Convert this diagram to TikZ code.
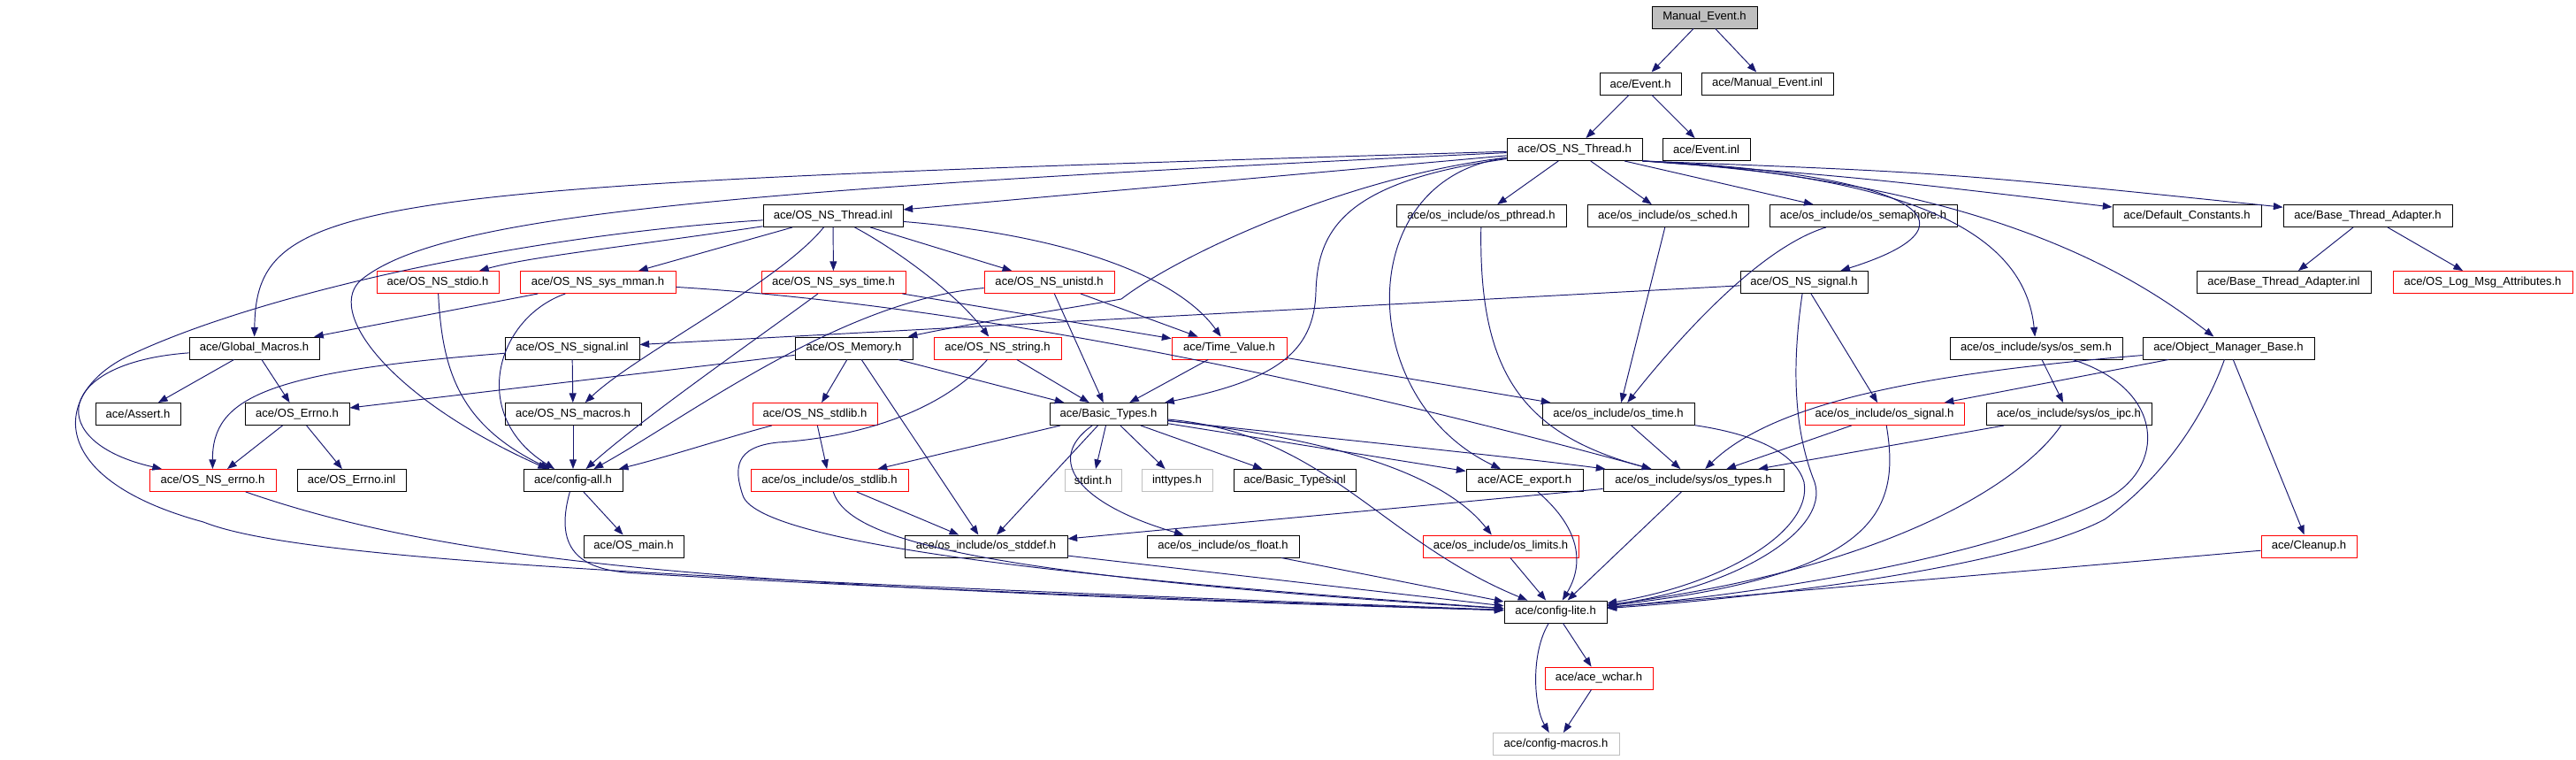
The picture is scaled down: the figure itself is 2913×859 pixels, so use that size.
\documentclass[tikz,border=0pt]{standalone}
\usepackage{fontspec}
\setmainfont{Liberation Sans}
\usetikzlibrary{arrows.meta}
\definecolor{eblue}{HTML}{191970}
\definecolor{nred}{HTML}{FF0000}
\definecolor{ngray}{HTML}{BFBFBF}
\tikzset{
  nb/.style={draw=black, fill=white, line width=0.7pt, inner sep=0pt, minimum height=18.75pt,
     font=\fontsize{9.8pt}{11pt}\selectfont, text=black},
  nr/.style={nb, draw=nred},
  ng/.style={nb, draw=ngray},
  bw/.style={minimum width=#1*0.75pt},
  e/.style={draw=eblue, line width=0.72pt, -{Triangle[length=8pt,width=6pt]}}
}
\begin{document}
\begin{tikzpicture}[x=0.75pt,y=-0.75pt]
\fill[white] (0,0) rectangle (2913,859);
\useasboundingbox (0,0) rectangle (2913,859);
% row 0
\node[nb,fill=ngray,bw=119] (me) at (1927.5,19.5) {Manual\_Event.h};
% row 1
\node[nb,bw=92] (ev) at (1855,94.5) {ace/Event.h};
\node[nb,bw=149] (mei) at (1998.5,94.5) {ace/Manual\_Event.inl};
% row 2
\node[nb,bw=153] (nst) at (1780.5,169) {ace/OS\_NS\_Thread.h};
\node[nb,bw=99] (evi) at (1929.5,169) {ace/Event.inl};
% row 3
\node[nb,bw=158] (nsti) at (942,244) {ace/OS\_NS\_Thread.inl};
\node[nb,bw=192] (pth) at (1675,244) {ace/os\_include/os\_pthread.h};
\node[nb,bw=182] (sch) at (1886,244) {ace/os\_include/os\_sched.h};
\node[nb,bw=212] (sem) at (2107,244) {ace/os\_include/os\_semaphore.h};
\node[nb,bw=168] (dc) at (2473,244) {ace/Default\_Constants.h};
\node[nb,bw=191] (bta) at (2677.5,244) {ace/Base\_Thread\_Adapter.h};
% row 4
\node[nr,bw=138] (stdio) at (495,319) {ace/OS\_NS\_stdio.h};
\node[nr,bw=176] (mman) at (676,319) {ace/OS\_NS\_sys\_mman.h};
\node[nr,bw=163] (systime) at (942.5,319) {ace/OS\_NS\_sys\_time.h};
\node[nr,bw=147] (unistd) at (1186.5,319) {ace/OS\_NS\_unistd.h};
\node[nb,bw=144] (nsig) at (2040,319) {ace/OS\_NS\_signal.h};
\node[nb,bw=197] (btai) at (2582.5,319) {ace/Base\_Thread\_Adapter.inl};
\node[nr,bw=203] (logmsg) at (2807.5,319) {ace/OS\_Log\_Msg\_Attributes.h};
% row 5
\node[nb,bw=147] (gm) at (287.5,393.5) {ace/Global\_Macros.h};
\node[nb,bw=152] (nsigi) at (647,393.5) {ace/OS\_NS\_signal.inl};
\node[nb,bw=133] (mem) at (965.5,393.5) {ace/OS\_Memory.h};
\node[nr,bw=144] (str) at (1128,393.5) {ace/OS\_NS\_string.h};
\node[nr,bw=130] (tv) at (1390,393.5) {ace/Time\_Value.h};
\node[nb,bw=195] (ossem) at (2302.5,393.5) {ace/os\_include/sys/os\_sem.h};
\node[nb,bw=194] (omb) at (2520,393.5) {ace/Object\_Manager\_Base.h};
% row 6
\node[nb,bw=96] (assert) at (156,468) {ace/Assert.h};
\node[nb,bw=118] (errno) at (336,468) {ace/OS\_Errno.h};
\node[nb,bw=154] (macros) at (648,468) {ace/OS\_NS\_macros.h};
\node[nr,bw=141] (stdlib) at (921.5,468) {ace/OS\_NS\_stdlib.h};
\node[nb,bw=133] (bt) at (1253.5,468) {ace/Basic\_Types.h};
\node[nb,bw=172] (ostime) at (1830,468) {ace/os\_include/os\_time.h};
\node[nr,bw=180] (ossig) at (2131,468) {ace/os\_include/os\_signal.h};
\node[nb,bw=187] (ipc) at (2339.5,468) {ace/os\_include/sys/os\_ipc.h};
% row 7
\node[nr,bw=143] (nserrno) at (240.5,543) {ace/OS\_NS\_errno.h};
\node[nb,bw=123] (errinl) at (397.5,543) {ace/OS\_Errno.inl};
\node[nb,bw=112] (call) at (648,543) {ace/config-all.h};
\node[nr,bw=178] (osstdlib) at (938,543) {ace/os\_include/os\_stdlib.h};
\node[ng,bw=64] (stdint) at (1236,543) {stdint.h};
\node[ng,bw=80] (inttypes) at (1331,543) {inttypes.h};
\node[nb,bw=138] (bti) at (1464,543) {ace/Basic\_Types.inl};
\node[nb,bw=132] (export) at (1724,543) {ace/ACE\_export.h};
\node[nb,bw=204] (types) at (1915,543) {ace/os\_include/sys/os\_types.h};
% row 8
\node[nb,bw=113] (main) at (716.5,617.5) {ace/OS\_main.h};
\node[nb,bw=184] (stddef) at (1115,617.5) {ace/os\_include/os\_stddef.h};
\node[nb,bw=172] (float) at (1383,617.5) {ace/os\_include/os\_float.h};
\node[nr,bw=176] (limits) at (1697,617.5) {ace/os\_include/os\_limits.h};
\node[nr,bw=108] (cleanup) at (2611,617.5) {ace/Cleanup.h};
% row 9-11
\node[nb,bw=116] (clite) at (1759,691.5) {ace/config-lite.h};
\node[nr,bw=122] (wchar) at (1808,766.5) {ace/ace\_wchar.h};
\node[ng,bw=143] (cmac) at (1759.5,841) {ace/config-macros.h};

% ---- edges ----
\draw[e] (me) -- (ev);
\draw[e] (me) -- (mei);
\draw[e] (ev) -- (nst);
\draw[e] (ev) -- (evi);
% OS_NS_Thread.h
\draw[e] (nst) -- (nsti);
\draw[e] (nst) -- (pth);
\draw[e] (nst) -- (sch);
\draw[e] (nst) -- (sem);
\draw[e] (nst.south east) .. controls (2100,200) .. (dc);
\draw[e] (nst.south east) .. controls (2200,195) .. (bta);
\draw[e] (nst.south east) .. controls (2150,195) and (2260,250) .. (nsig);
\draw[e] (nst.south east) .. controls (2180,200) and (2290,270) .. (ossem);
\draw[e] (nst.south east) .. controls (2230,205) and (2400,300) .. (omb);
\draw[e] (nst) .. controls (400,210) and (290,220) .. (gm);
\draw[e] (nst) .. controls (800,215) and (500,245) .. (410,315) .. controls (365,350) and (440,450) .. (call);
\draw[e] (nst) .. controls (1520,200) and (1330,290) .. (1268,338) .. controls (1200,350) and (1100,365) .. (mem);
\draw[e] (nst) .. controls (1520,205) and (1490,260) .. (1488,330) .. controls (1486,400) and (1440,430) .. (bt);
\draw[e] (nst) .. controls (1530,200) and (1530,450) .. (export);
% OS_NS_Thread.inl
\draw[e] (nsti) .. controls (700,280) and (600,290) .. (stdio);
\draw[e] (nsti) -- (mman);
\draw[e] (nsti) -- (systime);
\draw[e] (nsti) .. controls (1010,280) and (1080,330) .. (str);
\draw[e] (nsti) -- (unistd);
\draw[e] (nsti) .. controls (1200,265) and (1330,310) .. (tv);
\draw[e] (nsti) .. controls (880,320) and (720,400) .. (macros);
\draw[e] (nsti) .. controls (600,265) and (300,330) .. (150,400) .. controls (60,440) and (45,540) .. (230,590) .. controls (330,630) and (700,652) .. (clite);
% sys_mman
\draw[e] (mman) -- (gm);
\draw[e] (mman) .. controls (560,360) and (530,470) .. (call);
\draw[e] (mman) .. controls (1100,345) and (1500,430) .. (types);
% sys_time
\draw[e] (systime) -- (tv);
\draw[e] (systime) .. controls (860,380) and (730,470) .. (call);
% unistd
\draw[e] (unistd) -- (tv);
\draw[e] (unistd) -- (bt);
\draw[e] (unistd) .. controls (950,340) and (780,470) .. (call);
% string
\draw[e] (str) -- (bt);
\draw[e] (str) .. controls (1060,470) and (960,495) .. (880,500) .. controls (830,505) and (830,530) .. (840,560) .. controls (860,620) and (1300,660) .. (clite);
% memory
\draw[e] (mem) -- (errno);
\draw[e] (mem) -- (stdlib);
\draw[e] (mem) -- (bt);
\draw[e] (mem) -- (stddef);
% time value
\draw[e] (tv) -- (bt);
\draw[e] (tv) -- (ostime);
% signal
\draw[e] (nsig) -- (nsigi);
\draw[e] (nsig) -- (ossig);
\draw[e] (nsig) .. controls (2025,420) and (2030,490) .. (2052,545) .. controls (2070,600) and (1960,665) .. (clite);
% os_include
\draw[e] (pth) .. controls (1672,420) and (1720,490) .. (types);
\draw[e] (sch) -- (ostime);
\draw[e] (sem) .. controls (1990,280) and (1900,380) .. (ostime);
\draw[e] (ostime) -- (types);
\draw[e] (ostime) .. controls (1980,490) and (2030,510) .. (2040,545) .. controls (2050,600) and (1950,660) .. (clite);
\draw[e] (ossem) -- (ipc);
\draw[e] (ossem) .. controls (2450,440) and (2450,530) .. (2380,565) .. controls (2250,630) and (2000,670) .. (clite);
\draw[e] (omb) .. controls (2500,450) and (2460,530) .. (2380,587) .. controls (2280,640) and (2000,675) .. (clite);
\draw[e] (omb) -- (cleanup);
\draw[e] (cleanup) -- (clite);
\draw[e] (omb) .. controls (2200,420) and (2010,450) .. (types);
\draw[e] (omb) -- (ossig);
\draw[e] (ipc) -- (types);
\draw[e] (ipc) .. controls (2290,540) and (2150,640) .. (clite);
\draw[e] (ossig) -- (types);
\draw[e] (ossig) .. controls (2150,580) and (2120,650) .. (clite);
\draw[e] (types) -- (clite);
\draw[e] (types) -- (stddef);
\draw[e] (export) .. controls (1790,600) and (1790,640) .. (clite);
\draw[e] (limits) -- (clite);
% basic types
\draw[e] (bt) -- (osstdlib);
\draw[e] (bt) -- (stddef);
\draw[e] (bt) -- (stdint);
\draw[e] (bt) -- (inttypes);
\draw[e] (bt) -- (bti);
\draw[e] (bt) -- (export);
\draw[e] (bt) .. controls (1450,490) and (1700,515) .. (types);
\draw[e] (bt) .. controls (1180,520) and (1220,570) .. (float);
\draw[e] (bt) .. controls (1450,490) and (1620,520) .. (limits);
\draw[e] (bt) .. controls (1500,490) and (1560,610) .. (clite);
\draw[e] (osstdlib) -- (stddef);
\draw[e] (osstdlib) .. controls (960,610) and (1100,650) .. (clite);
\draw[e] (stddef) -- (clite);
\draw[e] (float) -- (clite);
% left part
\draw[e] (gm) -- (assert);
\draw[e] (gm) -- (errno);
\draw[e] (gm) .. controls (60,410) and (50,500) .. (nserrno);
\draw[e] (errno) -- (nserrno);
\draw[e] (errno) -- (errinl);
\draw[e] (nsigi) .. controls (300,420) and (240,450) .. (nserrno);
\draw[e] (nsigi) -- (macros);
\draw[e] (nserrno) .. controls (520,640) and (850,665) .. (clite);
\draw[e] (macros) -- (call);
\draw[e] (stdio) .. controls (500,420) and (520,480) .. (call);
\draw[e] (stdlib) -- (osstdlib);
\draw[e] (stdlib) .. controls (820,495) and (760,515) .. (call);
\draw[e] (call) -- (main);
\draw[e] (call) .. controls (625,625) and (660,645) .. (720,648) .. controls (1000,665) and (1400,680) .. (clite);
% bottom
\draw[e] (clite) -- (wchar);
\draw[e] (clite) .. controls (1730,740) and (1735,800) .. (cmac);
\draw[e] (wchar) -- (cmac);
% base thread adapter
\draw[e] (bta) -- (btai);
\draw[e] (bta) -- (logmsg);
\end{tikzpicture}
\end{document}
